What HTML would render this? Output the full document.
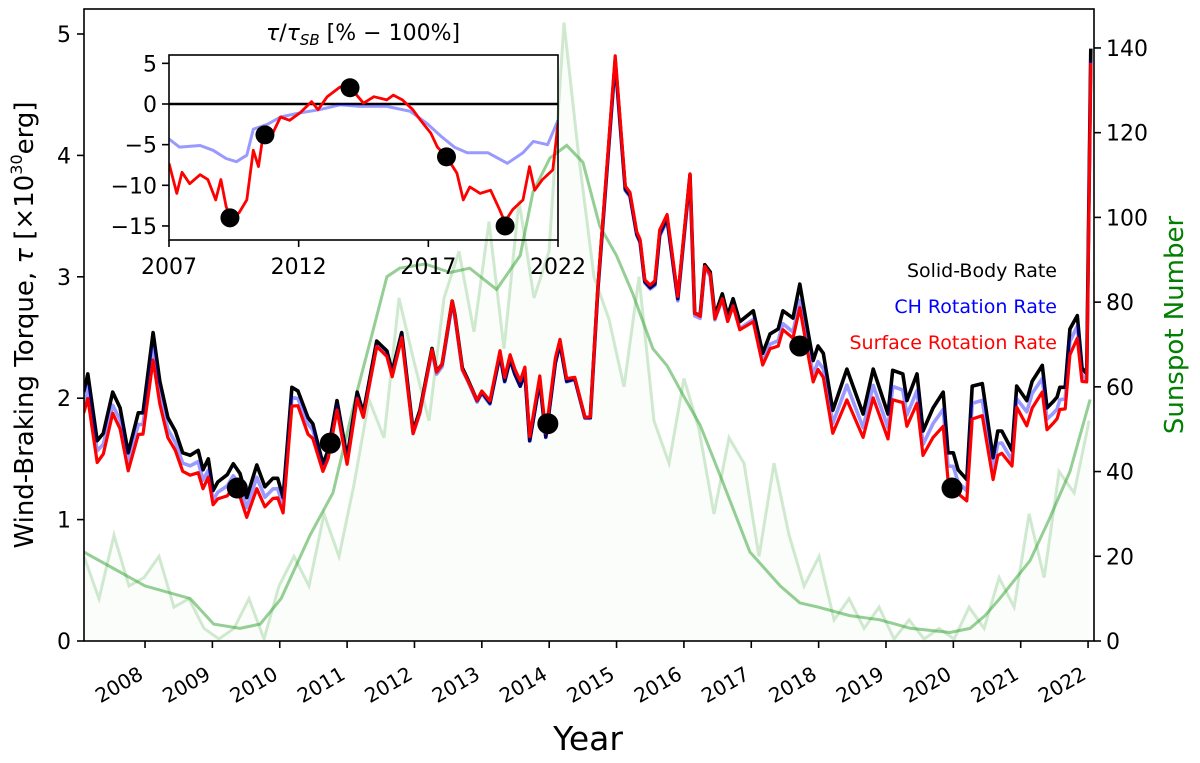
<!DOCTYPE html>
<html><head><meta charset="utf-8"><style>
html,body{margin:0;padding:0;background:#fff;}
svg{display:block;font-family:"DejaVu Sans","Liberation Sans",sans-serif;}
</style></head><body>
<svg id="chart" width="1200" height="763" viewBox="0 0 1200 763" xmlns="http://www.w3.org/2000/svg">
<defs><clipPath id="mainClip"><rect x="84" y="9" width="1010" height="632"/></clipPath>
<clipPath id="insetClip"><rect x="169" y="55" width="389" height="185"/></clipPath></defs>
<g id="bg" clip-path="url(#mainClip)"></g>
<g id="main" clip-path="url(#mainClip)"></g>
<g id="axes"></g>
<g id="inset"></g>
<text x="1057" y="277" font-size="19" text-anchor="end" fill="#000">Solid-Body Rate</text>
<text x="1057" y="313" font-size="19" text-anchor="end" fill="#0000ff">CH Rotation Rate</text>
<text x="1057" y="349" font-size="19" text-anchor="end" fill="#ff0000">Surface Rotation Rate</text>
<text x="588" y="750" font-size="33" text-anchor="middle">Year</text>
<text transform="translate(33,325) rotate(-90)" font-size="26" text-anchor="middle">Wind-Braking Torque, <tspan font-style="italic">τ</tspan> [×10<tspan font-size="16" dy="-11">30</tspan><tspan dy="11">erg]</tspan></text>
<text transform="translate(1183,325) rotate(-90)" font-size="26" text-anchor="middle" fill="#008000">Sunspot Number</text>
<text x="363" y="40" font-size="22" text-anchor="middle"><tspan font-style="italic">τ</tspan>/<tspan font-style="italic">τ</tspan><tspan font-size="15" dy="5" font-style="italic">SB</tspan><tspan dy="-5"> [% − 100%]</tspan></text>
</svg>
<script>
// ---- main torque data (solid-body rate, 1e30 erg) ----
const sbYears = [2007.09,2007.11,2007.15,2007.29,2007.38,2007.52,2007.63,2007.75,2007.90,2007.97,2008.12,2008.22,2008.34,2008.45,2008.56,2008.67,2008.79,2008.86,2008.94,2009.01,2009.08,2009.22,2009.31,2009.41,2009.51,2009.66,2009.78,2009.90,2009.97,2010.05,2010.18,2010.27,2010.42,2010.49,2010.64,2010.72,2010.85,2011.00,2011.15,2011.24,2011.44,2011.59,2011.67,2011.81,2011.98,2012.08,2012.26,2012.33,2012.41,2012.56,2012.60,2012.71,2012.78,2012.93,2013.00,2013.12,2013.27,2013.34,2013.42,2013.49,2013.57,2013.64,2013.71,2013.86,2013.95,2014.09,2014.16,2014.26,2014.38,2014.53,2014.61,2014.72,2014.98,2015.13,2015.20,2015.30,2015.35,2015.42,2015.50,2015.57,2015.64,2015.75,2015.91,2016.09,2016.16,2016.24,2016.31,2016.39,2016.46,2016.57,2016.65,2016.73,2016.83,2017.03,2017.17,2017.28,2017.40,2017.47,2017.62,2017.72,2017.84,2017.92,2017.99,2018.07,2018.21,2018.42,2018.66,2018.81,2019.03,2019.10,2019.25,2019.31,2019.46,2019.55,2019.70,2019.85,2019.92,2020.00,2020.07,2020.20,2020.28,2020.43,2020.59,2020.66,2020.72,2020.87,2020.94,2021.09,2021.17,2021.32,2021.39,2021.48,2021.54,2021.58,2021.66,2021.73,2021.84,2021.91,2021.98,2022.04];
const sbTorque = [2.05,2.10,2.20,1.65,1.71,2.05,1.92,1.55,1.88,1.88,2.54,2.14,1.84,1.73,1.55,1.53,1.57,1.41,1.50,1.24,1.31,1.37,1.46,1.38,1.18,1.45,1.27,1.34,1.34,1.18,2.09,2.06,1.84,1.79,1.46,1.57,1.98,1.51,2.05,1.88,2.47,2.39,2.22,2.54,1.73,1.90,2.41,2.22,2.28,2.80,2.69,2.25,2.17,1.98,2.05,1.96,2.36,2.14,2.32,2.20,2.10,2.21,1.65,2.14,1.68,2.29,2.45,2.14,2.16,1.84,1.84,2.88,4.78,3.72,3.67,3.35,3.29,2.96,2.91,2.94,3.35,3.48,2.82,3.84,2.70,2.68,3.10,3.04,2.68,2.86,2.68,2.82,2.63,2.72,2.37,2.53,2.57,2.72,2.66,2.94,2.55,2.31,2.43,2.37,1.90,2.24,1.87,2.24,1.87,2.23,2.20,1.98,2.20,1.73,1.92,2.05,1.55,1.55,1.41,1.33,2.10,2.12,1.51,1.73,1.73,1.57,2.10,1.98,2.14,2.27,1.92,1.97,2.01,2.09,2.09,2.57,2.68,2.25,2.20,4.88];
// ---- inset ratio data (% - 100%) ----
const redYears = [2007.0,2007.3,2007.5,2007.8,2008.2,2008.5,2008.8,2009.0,2009.2,2009.35,2009.7,2010.0,2010.25,2010.45,2010.6,2011.0,2011.3,2011.65,2012.05,2012.5,2012.75,2013.1,2013.6,2014.0,2014.5,2014.9,2015.4,2015.65,2016.0,2016.4,2016.7,2017.1,2017.35,2017.7,2018.1,2018.35,2018.6,2019.0,2019.4,2019.75,2019.95,2020.25,2020.65,2020.9,2021.1,2021.4,2021.8,2022.0];
const redPct = [-7.3,-11,-8.4,-9.8,-8.7,-9.3,-11.8,-9.3,-12.6,-13.9,-13.4,-11.8,-5.7,-7.7,-4.4,-3.6,-1.6,-2.0,-1.1,0.3,-0.7,0.9,2.1,2.0,0.1,0.9,0.5,1.1,0.5,-0.7,-2.0,-3.6,-5.3,-6.5,-8.5,-11.8,-10.2,-11,-10.6,-13,-14.5,-13,-11.8,-7.7,-10.6,-9.3,-8.1,-2.4];
const blueYears = [2007.0,2007.4,2008.2,2008.7,2009.2,2009.6,2010.0,2010.25,2010.8,2011.3,2012.05,2012.8,2013.6,2014.35,2015.4,2016.3,2016.95,2017.5,2018.0,2018.5,2019.3,2020.05,2020.65,2021.05,2021.6,2022.0];
const bluePct = [-4.3,-5.3,-5.1,-5.7,-6.7,-7.1,-6.3,-3.1,-2.5,-1.6,-1.1,-0.7,-0.1,-0.3,-0.3,-0.9,-2.4,-4.0,-5.3,-6.0,-6.0,-7.3,-6.0,-4.6,-5.0,-2.0];
const insetDotYears = [2009.35,2010.7,2013.98,2017.7,2019.96];
const insetDotPct = [-14,-3.8,2.0,-6.5,-15];
const mainDotYears = [2009.37,2010.75,2013.98,2017.72,2019.98];
const mainDotTorque = [1.26,1.63,1.79,2.43,1.26];
// ---- sunspot data ----
const ssMonthlyStart = 2007.094;
const ssMonthlyStep = 0.2227;
const ssMonthly = [20,10,25,13,15,20,8,10,3,0.5,3,10,0.5,13,20,13,30,20,37,57,48,81,66,52,81,92,73,99,69,104,81,92,146,114,86,76,60,86,52,42,62,50,30,48,42,20,42,25,13,20,5,10,3,8,0.5,5,0.5,3,0.5,8,3,15,8,30,15,40,35,52];
const ssSmoothYears = [2007.09,2008.0,2008.67,2009.02,2009.41,2009.71,2010.02,2010.45,2010.79,2011.15,2011.38,2011.59,2011.78,2012.16,2012.53,2012.82,2013.22,2013.57,2013.76,2014.01,2014.26,2014.50,2014.75,2015.0,2015.24,2015.54,2015.75,2015.99,2016.24,2016.54,2016.98,2017.43,2017.72,2017.99,2018.46,2018.91,2019.36,2019.95,2020.25,2020.47,2020.69,2021.14,2021.43,2021.73,2022.03];
const ssSmooth = [21,13,10,4,3,4,10,25,35,59,73,86,88,89,87,88,83,91,106,114,117,113,98,91,82,69,65,58,51,39,21,13,9,8,6,5,3,2,3,6,10,19,29,40,57];
// axis ticks
const xTickYears = [2008,2009,2010,2011,2012,2013,2014,2015,2016,2017,2018,2019,2020,2021,2022];
const yTicks = [0,1,2,3,4,5];
const ssTicks = [0,20,40,60,80,100,120,140];
const insetXTicks = [2007,2012,2017,2022];
const insetYTicks = [5,0,-5,-10,-15];

const NS='http://www.w3.org/2000/svg';
const xM = y => 84 + (y-2007.094)*67.36;
const yM = v => 641 - v*121.4;
const yS = s => 641 - s*4.236;
const xI = y => 169 + (y-2007)*(389/15);
const yI = p => 104 - p*8.13;
function mk(tag, attrs, parent){const e=document.createElementNS(NS,tag);for(const k in attrs)e.setAttribute(k,attrs[k]);parent.appendChild(e);return e;}
function interp(xs, ys, x){if(x<=xs[0])return ys[0];for(let i=1;i<xs.length;i++){if(x<=xs[i]){const t=(x-xs[i-1])/(xs[i]-xs[i-1]);return ys[i-1]+t*(ys[i]-ys[i-1]);}}return ys[ys.length-1];}
function pts(xs, ys, fx, fy){return xs.map((x,i)=>fx(x).toFixed(1)+','+fy(ys[i]).toFixed(1)).join(' ');}

const bg=document.getElementById('bg'), main=document.getElementById('main'), axes=document.getElementById('axes'), inset=document.getElementById('inset');
const mYears = ssMonthly.map((_,i)=>ssMonthlyStart+i*ssMonthlyStep);
let area = 'M'+xM(mYears[0])+','+yS(0)+' L'+pts(mYears, ssMonthly, xM, yS).replace(/ /g,' L')+' L'+xM(mYears[mYears.length-1])+','+yS(0)+'Z';
let e=mk('path',{d:area,fill:'#2ca02c','fill-opacity':'0.025',stroke:'none'},bg);


e=mk('polyline',{points:pts(mYears, ssMonthly, xM, yS),fill:'none',stroke:'#2ca02c','stroke-opacity':'0.22','stroke-width':'3'},bg);


e=mk('polyline',{points:pts(ssSmoothYears, ssSmooth, xM, yS),fill:'none',stroke:'#2ca02c','stroke-opacity':'0.5','stroke-width':'3'},bg);



const blueT = sbYears.map((y,i)=>sbTorque[i]*(1+interp(blueYears,bluePct,y)/100));
const redT = sbYears.map((y,i)=>sbTorque[i]*(1+interp(redYears,redPct,y)/100));
e=mk('polyline',{points:pts(sbYears, sbTorque, xM, yM),fill:'none',stroke:'#000','stroke-width':'3.6','stroke-linejoin':'round'},main);


e=mk('polyline',{points:pts(sbYears, blueT, xM, yM),fill:'none',stroke:'#0000ff','stroke-opacity':'0.4','stroke-width':'3.6','stroke-linejoin':'round'},main);


e=mk('polyline',{points:pts(sbYears, redT, xM, yM),fill:'none',stroke:'#ff0000','stroke-width':'3.2','stroke-linejoin':'round'},main);


mainDotYears.forEach((y,i)=>{const c=mk('circle',{cx:xM(y),cy:yM(mainDotTorque[i]),r:10.5,fill:'#000'},main);

});

e=mk('rect',{x:84,y:9,width:1010,height:632,fill:'none',stroke:'#000','stroke-width':'1.6'},axes);


xTickYears.forEach(y=>{const x=xM(y);
const t=mk('line',{x1:x,y1:641,x2:x,y2:648,stroke:'#000','stroke-width':'1.6'},axes);


const l=mk('text',{transform:`translate(${x-4},${672}) rotate(-30)`,'font-size':'20','text-anchor':'end','dominant-baseline':'central'},axes);
l.textContent=y;

});
yTicks.forEach(v=>{const y=yM(v);
const t=mk('line',{x1:77,y1:y,x2:84,y2:y,stroke:'#000','stroke-width':'1.6'},axes);


const l=mk('text',{x:71,y:y+8,'font-size':'22','text-anchor':'end'},axes);
l.textContent=v;

});
ssTicks.forEach(s=>{const y=yS(s);
const t=mk('line',{x1:1094,y1:y,x2:1101,y2:y,stroke:'#000','stroke-width':'1.6'},axes);


const l=mk('text',{x:1106,y:y+8,'font-size':'22','text-anchor':'start'},axes);
l.textContent=s;

});

const ig=mk('g',{'clip-path':'url(#insetClip)'},inset);
e=mk('line',{x1:169,y1:yI(0),x2:558,y2:yI(0),stroke:'#000','stroke-width':'2.6'},ig);


e=mk('polyline',{points:pts(blueYears, bluePct, xI, yI),fill:'none',stroke:'#0000ff','stroke-opacity':'0.4','stroke-width':'3','stroke-linejoin':'round'},ig);


e=mk('polyline',{points:pts(redYears, redPct, xI, yI),fill:'none',stroke:'#ff0000','stroke-width':'2.8','stroke-linejoin':'round'},ig);


insetDotYears.forEach((y,i)=>{const c=mk('circle',{cx:xI(y),cy:yI(insetDotPct[i]),r:9.5,fill:'#000'},inset);

});
e=mk('rect',{x:169,y:55,width:389,height:185,fill:'none',stroke:'#000','stroke-width':'1.6'},inset);


insetXTicks.forEach(y=>{const x=xI(y);
const t=mk('line',{x1:x,y1:240,x2:x,y2:247,stroke:'#000','stroke-width':'1.6'},inset);


const l=mk('text',{x:x,y:274,'font-size':'22','text-anchor':'middle'},inset);
l.textContent=y;

});
insetYTicks.forEach(p=>{const y=yI(p);
const t=mk('line',{x1:162,y1:y,x2:169,y2:y,stroke:'#000','stroke-width':'1.6'},inset);


const l=mk('text',{x:157,y:y+8,'font-size':'22','text-anchor':'end'},inset);
l.textContent=p<0?'−'+Math.abs(p):p;

});
</script>
</body></html>
